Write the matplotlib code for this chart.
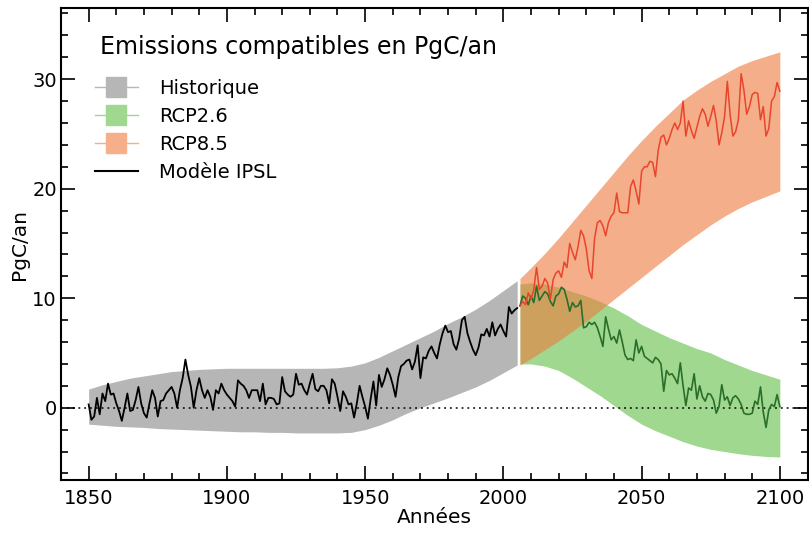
import numpy as np
import matplotlib
matplotlib.use("Agg")
import matplotlib.pyplot as plt
from matplotlib.lines import Line2D
from matplotlib.ticker import MultipleLocator

# modele IPSL - historique 1850-2005
annees_hist = np.arange(1850, 2006)
ipsl_hist = [
    0.3, -1.1, -0.8, 0.9, -0.6, 1.3, 0.6, 2.2, 1.2, 1.3,
    0.4, -0.3, -1.2, 0.0, 1.3, -0.3, -0.2, 0.7, 1.9, 0.4,
    -0.5, -0.9, 0.4, 1.6, 0.9, -0.8, 0.6, 0.7, 1.3, 1.6,
    1.9, 1.3, 0.0, 1.6, 2.7, 4.4, 3.0, 1.9, 0.0, 1.6,
    2.7, 1.6, 0.9, 1.6, 1.0, -0.2, 1.6, 1.3, 2.2, 1.6,
    1.2, 0.9, 0.6, 0.1, 2.5, 2.2, 2.0, 1.6, 0.9, 1.6,
    1.6, 1.6, 0.6, 2.2, 0.3, 0.9, 0.9, 0.8, 0.3, 0.4,
    2.8, 1.5, 1.2, 1.0, 1.2, 3.1, 2.1, 2.2, 1.6, 1.2,
    2.2, 3.1, 1.7, 1.5, 2.0, 2.0, 1.6, 0.4, 2.6, 2.2,
    1.0, -0.3, 1.5, 1.0, 0.3, 0.4, -0.9, 0.4, 2.0, 1.0,
    0.1, -1.0, 0.8, 2.4, 0.2, 3.0, 1.9, 2.6, 3.6, 3.0,
    2.1, 1.0, 2.8, 3.8, 4.0, 4.3, 4.4, 3.5, 4.2, 5.7,
    2.7, 4.6, 4.5, 5.2, 5.6, 5.0, 4.5, 5.8, 6.8, 7.5,
    6.9, 7.0, 5.8, 5.3, 6.3, 8.0, 8.3, 6.8, 6.0, 5.3,
    4.8, 5.5, 6.7, 6.6, 7.2, 6.5, 7.8, 6.6, 7.2, 7.6,
    7.0, 6.5, 9.2, 8.6, 8.9, 9.1,
]

# scenarios 2006-2100
annees_fut = np.arange(2006, 2101)
ipsl_rcp26 = [
    9.3, 10.2, 10.0, 9.4, 10.2, 9.6, 11.1, 9.8, 10.2, 10.6,
    10.4, 9.7, 9.3, 10.2, 10.4, 11.0, 10.8, 9.9, 8.8, 9.6,
    9.2, 9.3, 9.8, 7.3, 7.4, 7.8, 7.6, 7.8, 7.3, 6.5,
    5.6, 8.3, 7.2, 6.2, 6.5, 5.9, 7.1, 6.0, 4.8, 4.4,
    4.5, 4.3, 6.2, 5.0, 5.6, 4.7, 4.5, 4.3, 4.1, 4.6,
    4.4, 4.0, 1.5, 3.4, 3.0, 3.1, 2.7, 2.2, 4.1, 2.0,
    0.2, 1.8, 1.6, 3.1, 0.8, 2.0, 1.0, 0.6, 1.3, 1.2,
    0.7, -0.5, 0.1, 2.1, 0.7, 1.0, 0.2, 0.9, 1.1, 0.8,
    0.3, -0.5, -0.6, -0.6, -0.5, 0.6, 0.3, 1.9, -0.4, -1.8,
    -0.2, 0.3, 0.1, 1.2, 0.1,
]
ipsl_rcp85 = [
    9.3, 9.7, 9.4, 10.5, 9.9, 10.8, 12.8, 10.8, 11.1, 11.8,
    11.4, 9.9, 11.7, 12.3, 12.5, 11.9, 13.3, 12.8, 15.0, 14.2,
    13.5, 14.7, 16.2, 15.7, 14.5, 12.5, 11.8, 15.5, 16.9, 17.1,
    16.6, 15.7, 16.9, 17.5, 17.8, 19.6, 17.9, 17.8, 17.8, 17.8,
    20.2, 20.8, 19.8, 18.6, 21.6, 22.0, 22.0, 22.5, 22.4, 21.1,
    23.5, 24.7, 24.9, 24.0, 24.6, 25.4, 26.0, 25.4, 26.0, 28.0,
    24.8, 26.2, 25.3, 24.6, 25.6, 26.6, 27.3, 26.8, 25.7, 26.6,
    27.6, 26.2, 24.0, 25.1, 26.6, 29.8, 26.8, 24.8, 25.2, 26.3,
    30.5, 29.0, 26.8, 27.5, 28.6, 28.8, 28.7, 26.3, 27.5, 24.8,
    25.5, 28.0, 28.4, 29.7, 28.9,
]

# enveloppes des modeles
annees_env_hist = np.arange(1850, 2006, 5)
hist_haut = [1.7, 2.1, 2.4, 2.7, 2.9, 3.1, 3.3, 3.4, 3.5, 3.55, 3.6, 3.6, 3.6, 3.6, 3.6, 3.6,
             3.6, 3.6, 3.65, 3.8, 4.1, 4.6, 5.2, 5.8, 6.4, 7.0, 7.7, 8.3, 9.0, 9.8, 10.7, 11.6]
hist_bas = [-1.5, -1.6, -1.7, -1.75, -1.8, -1.9, -1.95, -2.0, -2.05, -2.1, -2.15, -2.2, -2.2, -2.25, -2.25, -2.3,
            -2.3, -2.3, -2.3, -2.25, -2.0, -1.6, -1.1, -0.5, 0.0, 0.45, 0.9, 1.4, 1.9, 2.5, 3.2, 3.9]

annees_env_fut = [2006, 2010, 2015, 2020, 2025, 2030, 2035, 2040, 2045, 2050,
                  2055, 2060, 2065, 2070, 2075, 2080, 2085, 2090, 2095, 2100]
rcp26_haut = [11.3, 11.4, 11.3, 11.0, 10.6, 10.2, 9.7, 9.1, 8.4, 7.6,
              7.0, 6.4, 5.9, 5.4, 5.0, 4.4, 3.9, 3.4, 3.0, 2.6]
rcp26_bas = [4.0, 4.0, 3.8, 3.4, 2.7, 1.9, 1.1, 0.2, -0.7, -1.5,
             -2.1, -2.6, -3.1, -3.5, -3.8, -4.0, -4.2, -4.35, -4.45, -4.5]
rcp85_haut = [11.8, 12.8, 14.1, 15.5, 17.0, 18.5, 20.0, 21.5, 23.0, 24.4,
              25.7, 26.9, 28.1, 29.0, 29.8, 30.5, 31.2, 31.7, 32.1, 32.5]
rcp85_bas = [3.9, 4.5, 5.3, 6.1, 7.0, 7.9, 8.9, 9.9, 10.9, 11.9,
             12.9, 13.9, 14.9, 15.8, 16.7, 17.5, 18.2, 18.8, 19.3, 19.8]

gris = '#b6b6b6'
vert = '#a0d890'
orange = '#ee7b3c'
orange_clair = '#f5b08a'

plt.rcParams['font.family'] = 'DejaVu Sans'

fig = plt.figure(figsize=(8.09, 5.33), dpi=100)
ax = fig.add_axes([61/809, 53/533, 746.5/809, 472/533])

ax.fill_between(annees_env_hist, hist_bas, hist_haut, color=gris, lw=0, zorder=1)
ax.fill_between(annees_env_fut, rcp26_bas, rcp26_haut, color=vert, lw=0, zorder=1)
ax.fill_between(annees_env_fut, rcp85_bas, rcp85_haut, color=orange, alpha=0.6, lw=0, zorder=1)

ax.axhline(0, color='black', ls=(0, (1.2, 2.6)), lw=1.1, zorder=2)

ax.plot(annees_hist, ipsl_hist, color='black', lw=1.3, zorder=3)
ax.plot(annees_fut, ipsl_rcp26, color='#2b6e2b', lw=1.2, zorder=3)
ax.plot(annees_fut, ipsl_rcp85, color='#e8452c', lw=1.1, zorder=3)

ax.set_xlim(1840, 2110)
ax.set_ylim(-6.6, 36.5)
ax.xaxis.set_major_locator(MultipleLocator(50))
ax.xaxis.set_minor_locator(MultipleLocator(10))
ax.yaxis.set_major_locator(MultipleLocator(10))
ax.yaxis.set_minor_locator(MultipleLocator(2))
ax.tick_params(which='both', direction='in', top=True, right=True, labelsize=14, width=1.2)
ax.tick_params(axis='x', pad=6.5)
ax.tick_params(axis='y', pad=3)
ax.tick_params(which='major', length=10)
ax.tick_params(which='minor', length=5)
for s in ax.spines.values():
    s.set_linewidth(1.5)

ax.set_xlabel('Années', fontsize=14.5, labelpad=0)
ax.set_ylabel('PgC/an', fontsize=14.5, labelpad=2)

ax.text(0.0522, 0.917, 'Emissions compatibles en PgC/an', transform=ax.transAxes,
        fontsize=17, ha='left', va='center')

poignees = [
    Line2D([0], [0], color=gris, lw=1, marker='s', markersize=15),
    Line2D([0], [0], color=vert, lw=1, marker='s', markersize=15),
    Line2D([0], [0], color=orange_clair, lw=1, marker='s', markersize=15),
    Line2D([0], [0], color='black', lw=1.5),
]
noms = ['Historique', 'RCP2.6', 'RCP8.5', 'Modèle IPSL']
leg = ax.legend(poignees, noms, fontsize=14, frameon=False, loc='center left',
                bbox_to_anchor=(0.0455, 0.7405), borderpad=0, borderaxespad=0,
                handlelength=2.2, handletextpad=1.1, labelspacing=0.455)

fig.savefig('out.png', dpi=100)
